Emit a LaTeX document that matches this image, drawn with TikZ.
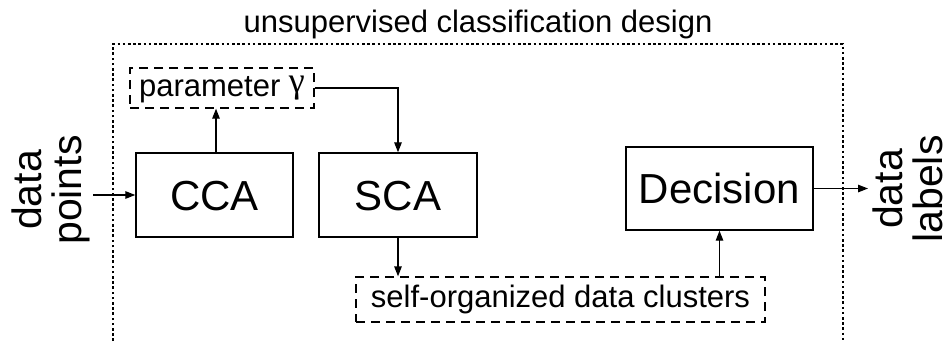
\documentclass[tikz,border=0pt]{standalone}
\usepackage{fontspec}
\setmainfont{Liberation Sans}
\newfontfamily\greekfont{Liberation Serif}
\usetikzlibrary{arrows.meta}

\tikzset{
  blockbox/.style={draw, line width=1.4pt, rectangle, inner sep=0pt,
    font=\fontsize{42}{42}\selectfont, text height=30pt, text depth=0pt},
  databox/.style={draw, line width=1.3pt, dash pattern=on 9pt off 6pt,
    rectangle, inner sep=0pt, font=\fontsize{31}{31}\selectfont, text depth=0pt},
  sidetext/.style={rotate=90, align=center, inner sep=0pt,
    font=\fontsize{41}{40}\selectfont},
  flow/.style={line width=1.3pt, -{Triangle[length=10pt,width=7.5pt]}},
  framedot/.style={line width=1.4pt, dash pattern=on 2.6pt off 2.6pt},
}

\begin{document}
\begin{tikzpicture}[x=1pt,y=-1pt]
  \useasboundingbox (0,0) rectangle (952,341);

  % enclosing design frame, open at the bottom
  \draw[framedot] (113,341) -- (113,44) -- (843,44) -- (843,341);
  \node[anchor=base, inner sep=0pt, font=\fontsize{31}{31}\selectfont]
    (title) at (478,32) {unsupervised classification design};

  % processing blocks
  \node[blockbox, minimum width=157pt, minimum height=84pt] (cca) at (214.5,195) {CCA};
  \node[blockbox, minimum width=158pt, minimum height=84pt] (sca) at (398,195) {SCA};
  \node[blockbox, minimum width=187pt, minimum height=83pt] (dec) at (719.5,188.5) {Decision};

  % intermediate data
  \node[databox, minimum width=184pt, minimum height=40pt, text height=17pt]
    (par) at (222,88) {parameter \raisebox{4pt}{\greekfont\fontsize{36}{36}\selectfont γ}};
  \node[databox, minimum width=409pt, minimum height=45pt, text height=15pt]
    (clu) at (560.5,299.5) {self-organized data clusters};

  % input and output labels
  \node[sidetext] (inpt) at (51,190) {data\\points};
  \node[sidetext] (outp) at (908,189) {data\\labels};
  \coordinate (inend) at (93,195);
  \coordinate (outend) at (868,188.5);

  % connectors
  \draw[flow] (inend) -- (cca.west);
  \draw[flow] ([xshift=1.5pt]cca.north) -- ([xshift=1.5pt]cca.north |- par.south);
  \draw[flow] (par.east) -| (sca.north);
  \draw[flow] (sca.south) -- (sca.south |- clu.north);
  \draw[flow] (dec.south |- clu.north) -- (dec.south);
  \draw[flow] (dec.east) -- (outend);
\end{tikzpicture}
\end{document}
